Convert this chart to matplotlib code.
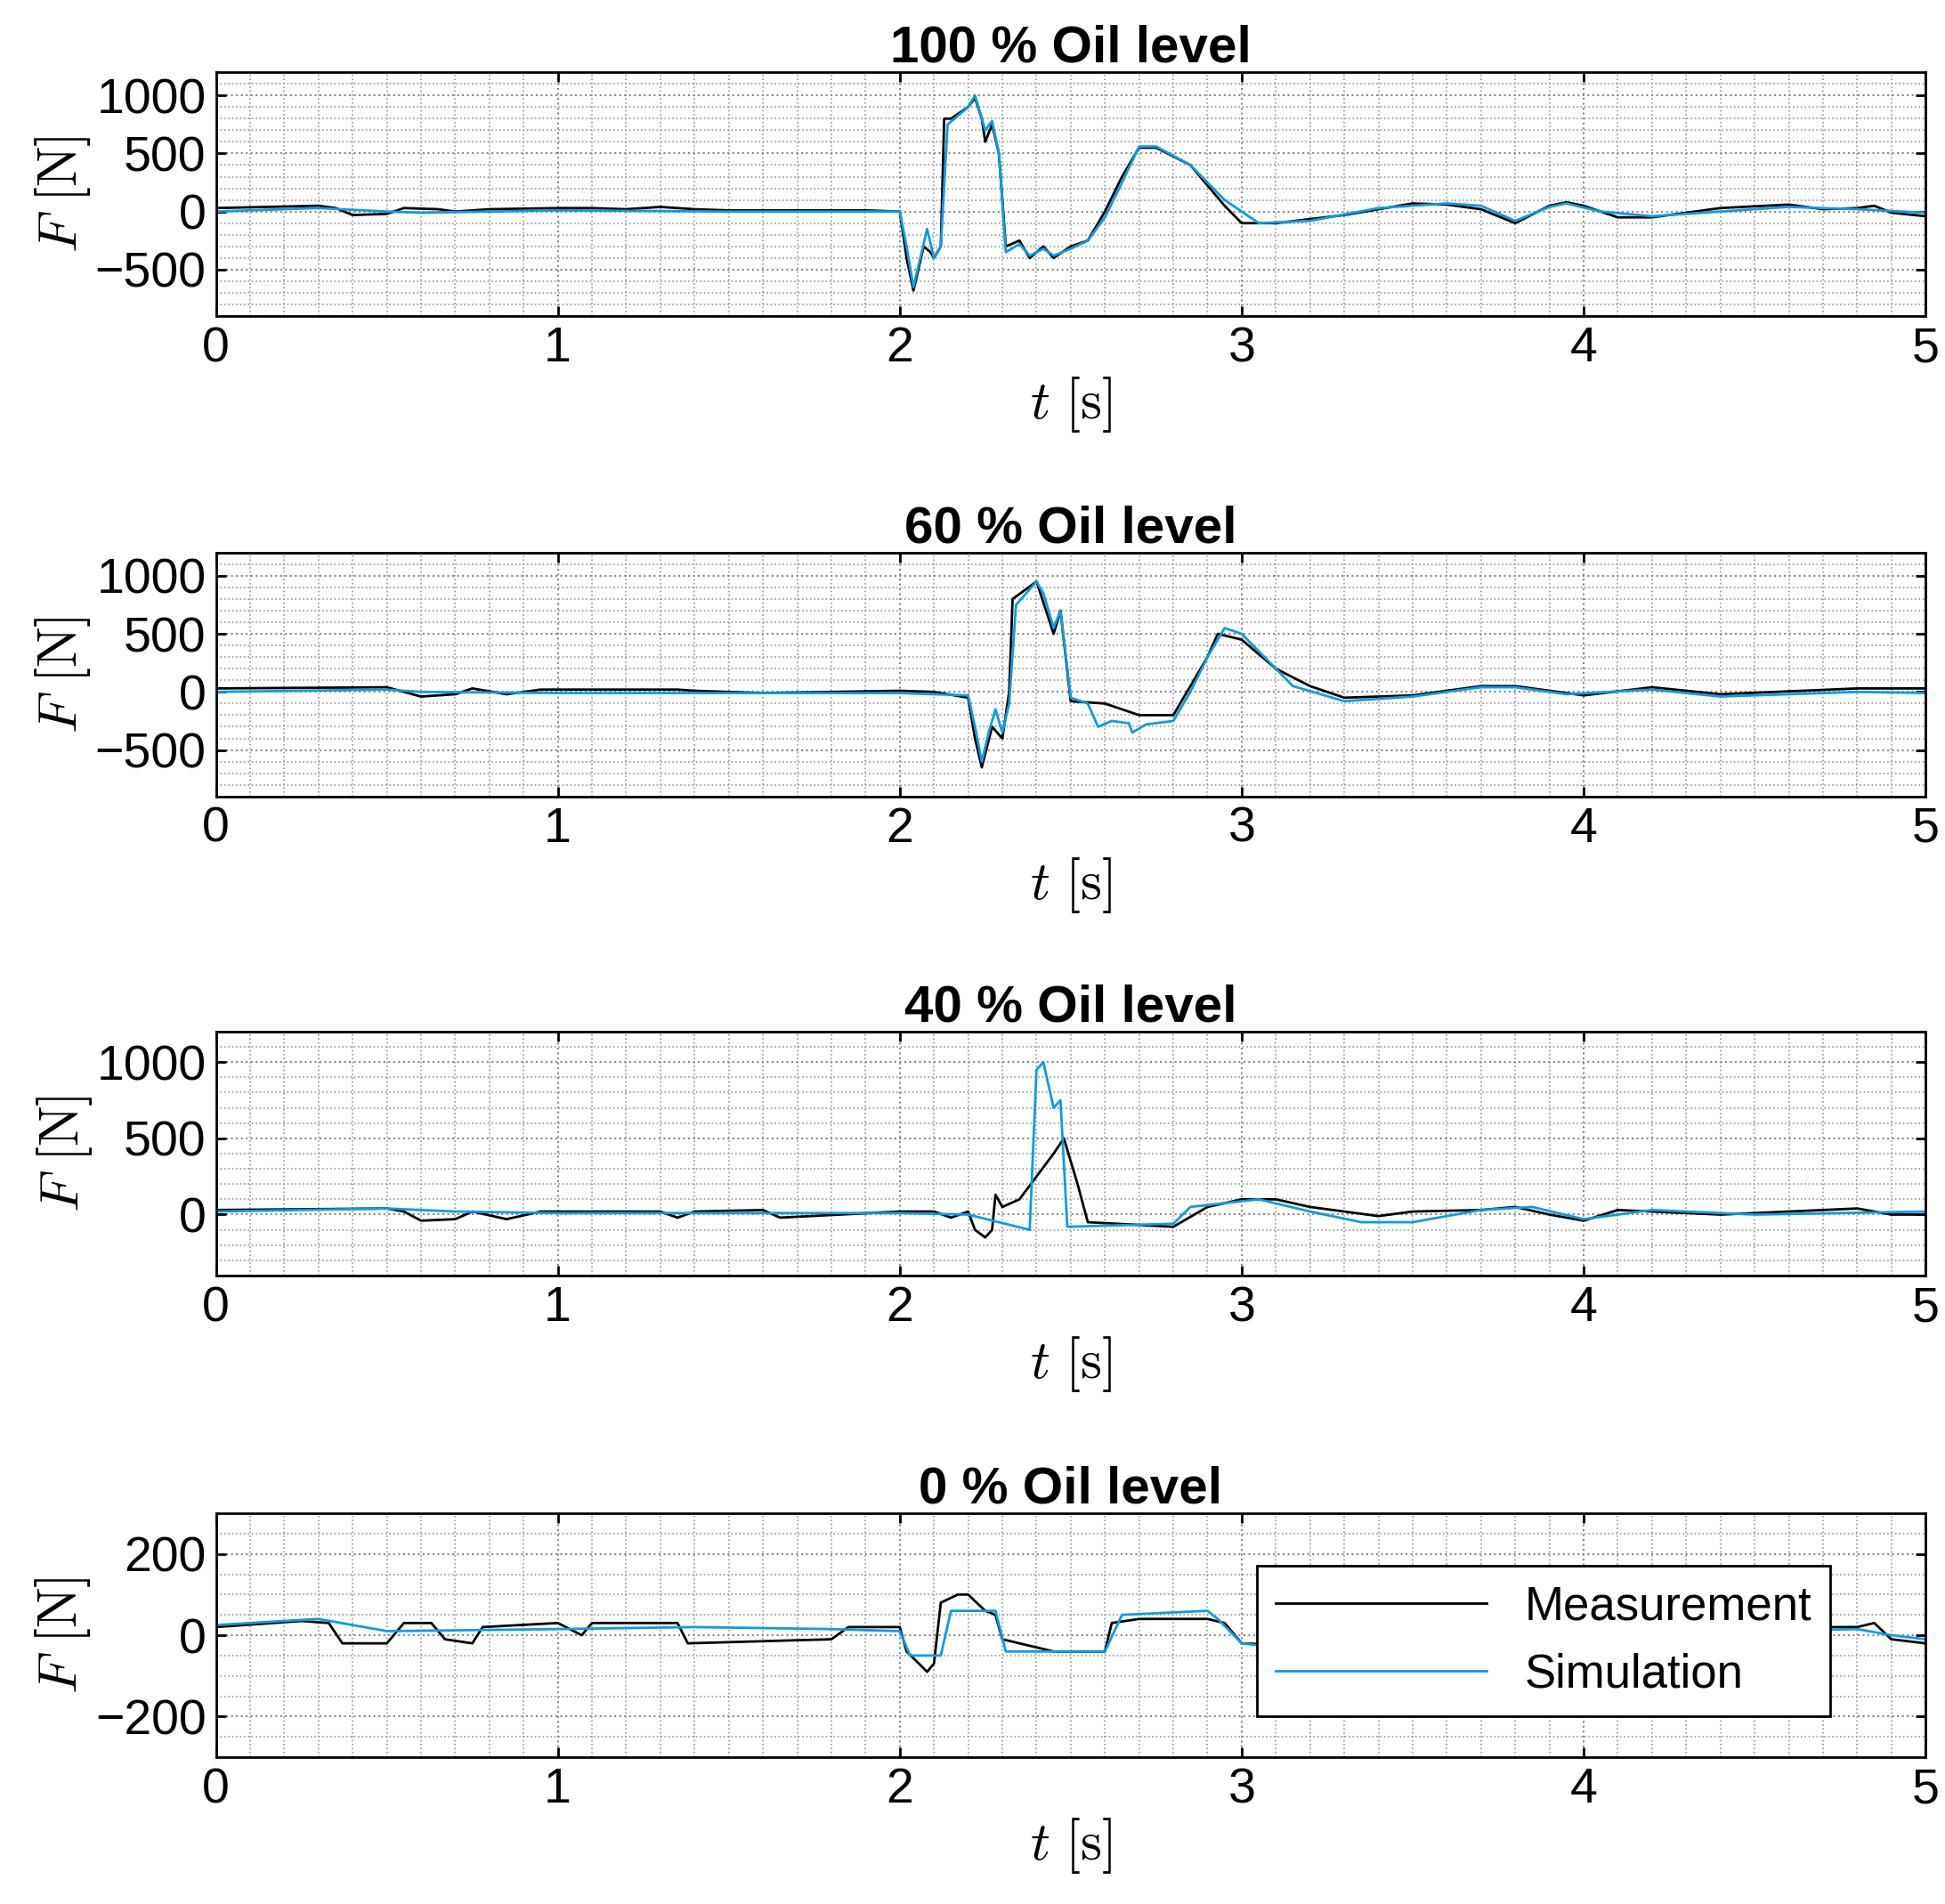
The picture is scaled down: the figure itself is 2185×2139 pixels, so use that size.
import numpy as np
import matplotlib.pyplot as plt
from matplotlib.ticker import MultipleLocator

plt.rcParams['font.family'] = 'Liberation Sans'
plt.rcParams['mathtext.fontset'] = 'cm'

TITLES = ['100 % Oil level', '60 % Oil level', '40 % Oil level', '0 % Oil level']
YLIMS = [(-900, 1200), (-900, 1200), (-400, 1200), (-300, 300)]
YTICKS = [[-500, 0, 500, 1000], [-500, 0, 500, 1000], [0, 500, 1000], [-200, 0, 200]]
YMINOR = [100, 100, 100, 50]

# breakpoints (t [s], F [N])
meas_100 = [(0, 30), (0.3, 50), (0.35, 30), (0.4, -30), (0.5, -20), (0.55, 30), (0.65, 20), (0.7, 0), (0.8, 20),
            (1.0, 30), (1.1, 30), (1.2, 20), (1.3, 40), (1.4, 20), (1.5, 10), (1.9, 10), (2.0, 0), (2.02, -400),
            (2.04, -680), (2.07, -300), (2.09, -350), (2.1, -400), (2.12, -300), (2.13, 800), (2.15, 800),
            (2.2, 900), (2.22, 980), (2.24, 800), (2.25, 600), (2.27, 750), (2.29, 500), (2.31, -300),
            (2.35, -250), (2.38, -400), (2.42, -300), (2.45, -400), (2.5, -300), (2.55, -250), (2.6, 0),
            (2.65, 300), (2.7, 550), (2.75, 550), (2.85, 400), (2.95, 50), (3.0, -100), (3.1, -100), (3.3, -30),
            (3.5, 70), (3.6, 60), (3.7, 20), (3.8, -100), (3.9, 50), (3.95, 80), (4.0, 50), (4.1, -50),
            (4.2, -50), (4.4, 30), (4.6, 60), (4.7, 20), (4.8, 30), (4.85, 50), (4.9, -10), (5.0, -40)]
sim_100 = [(0, 0), (0.3, 30), (0.5, 0), (0.6, -10), (1.0, 10), (1.5, 0), (2.0, 0), (2.02, -300), (2.04, -650),
           (2.06, -400), (2.08, -150), (2.1, -400), (2.12, -300), (2.14, 750), (2.2, 900), (2.22, 1000),
           (2.25, 700), (2.27, 780), (2.29, 500), (2.31, -350), (2.35, -280), (2.38, -380), (2.42, -320),
           (2.45, -380), (2.5, -320), (2.55, -250), (2.6, -50), (2.65, 250), (2.7, 560), (2.75, 560),
           (2.85, 400), (2.95, 100), (3.05, -100), (3.2, -80), (3.4, 30), (3.6, 70), (3.7, 50), (3.8, -80),
           (3.9, 40), (3.95, 70), (4.05, 0), (4.2, -40), (4.4, 0), (4.6, 40), (4.8, 20), (5.0, -10)]
meas_60 = [(0, 30), (0.5, 40), (0.6, -40), (0.7, -20), (0.75, 30), (0.85, -20), (0.95, 20), (1.35, 20),
           (1.4, 10), (1.6, -10), (2.0, 10), (2.1, 0), (2.2, -50), (2.22, -400), (2.24, -650), (2.27, -300),
           (2.3, -400), (2.32, 0), (2.33, 800), (2.4, 950), (2.45, 500), (2.47, 700), (2.5, -80), (2.6, -100),
           (2.7, -200), (2.8, -200), (2.9, 300), (2.93, 500), (3.0, 450), (3.1, 200), (3.2, 50), (3.3, -50),
           (3.5, -30), (3.7, 50), (3.8, 50), (4.0, -30), (4.2, 40), (4.4, -20), (4.8, 30), (5.0, 30)]
sim_60 = [(0, 0), (0.5, 20), (0.6, 0), (1.0, -10), (1.5, -10), (2.0, -10), (2.2, -30), (2.22, -300),
          (2.24, -600), (2.26, -350), (2.28, -150), (2.3, -350), (2.32, -100), (2.34, 750), (2.4, 950),
          (2.42, 850), (2.45, 550), (2.47, 700), (2.5, -50), (2.55, -100), (2.58, -300), (2.62, -250),
          (2.67, -270), (2.68, -350), (2.72, -280), (2.8, -250), (2.85, 0), (2.9, 300), (2.95, 550),
          (3.0, 500), (3.05, 350), (3.15, 50), (3.3, -80), (3.5, -40), (3.7, 40), (3.8, 40), (3.95, -20),
          (4.2, 20), (4.4, -40), (4.8, 0), (5.0, -10)]
meas_40 = [(0, 30), (0.5, 40), (0.55, 20), (0.6, -40), (0.7, -30), (0.75, 20), (0.85, -30), (0.95, 20),
           (1.3, 20), (1.35, -20), (1.4, 20), (1.6, 30), (1.65, -20), (2.0, 20), (2.1, 20), (2.15, -20),
           (2.2, 20), (2.22, -100), (2.25, -150), (2.27, -100), (2.28, 130), (2.3, 50), (2.35, 100),
           (2.4, 250), (2.45, 400), (2.48, 500), (2.52, 200), (2.55, -50), (2.8, -80), (2.9, 50), (3.0, 100),
           (3.1, 100), (3.2, 50), (3.4, -10), (3.5, 20), (3.7, 30), (3.8, 50), (3.9, 0), (4.0, -40),
           (4.1, 30), (4.4, 0), (4.8, 40), (4.9, 0), (5.0, 0)]
sim_40 = [(0, 20), (0.5, 40), (0.7, 20), (1.0, 10), (1.5, 10), (2.0, 10), (2.2, 0), (2.38, -100), (2.4, 950),
          (2.42, 1000), (2.45, 700), (2.47, 750), (2.49, -80), (2.8, -60), (2.85, 50), (3.05, 100),
          (3.2, 20), (3.35, -50), (3.5, -50), (3.7, 30), (3.85, 50), (4.0, -30), (4.2, 30), (4.5, 0), (5.0, 20)]
meas_0 = [(0, 20), (0.25, 35), (0.33, 30), (0.37, -20), (0.5, -20), (0.55, 30), (0.63, 30), (0.67, -10),
          (0.75, -20), (0.78, 20), (1.0, 30), (1.07, 0), (1.1, 30), (1.35, 30), (1.38, -20), (1.8, -10),
          (1.85, 20), (2.0, 20), (2.02, -40), (2.08, -90), (2.1, -70), (2.12, 80), (2.17, 100), (2.2, 100),
          (2.25, 60), (2.28, 50), (2.3, -10), (2.35, -20), (2.45, -40), (2.6, -40), (2.62, 30), (2.7, 40),
          (2.9, 40), (2.95, 30), (3.0, -20), (3.3, -30), (3.6, -20), (4.0, 10), (4.5, 20), (4.8, 20),
          (4.85, 30), (4.9, -10), (5.0, -20)]
sim_0 = [(0, 25), (0.3, 40), (0.4, 25), (0.5, 10), (1.0, 15), (1.4, 20), (1.8, 15), (2.0, 10), (2.03, -50),
         (2.12, -50), (2.15, 60), (2.28, 60), (2.31, -40), (2.6, -40), (2.65, 50), (2.9, 60), (2.93, 40),
         (3.0, -20), (3.2, -40), (3.6, -20), (4.0, 0), (4.5, 10), (4.8, 15), (4.9, 0), (5.0, -10)]

MEAS = [meas_100, meas_60, meas_40, meas_0]
SIM = [sim_100, sim_60, sim_40, sim_0]
TOPS = [58, 444, 829, 1216]

fig = plt.figure(figsize=(21.85, 21.39), dpi=100)
for i in range(4):
    ax = fig.add_axes([0.111, 1 - (TOPS[i] + 196) / 1530, 0.879, 196 / 1530])
    m = np.array(MEAS[i]); s = np.array(SIM[i])
    ax.plot(m[:, 0], m[:, 1], color='black', lw=2, label='Measurement')
    ax.plot(s[:, 0], s[:, 1], color='#0a9ce8', lw=2, label='Simulation')
    ax.set_xlim(0, 5)
    ax.set_ylim(*YLIMS[i])
    ax.set_yticks(YTICKS[i])
    ax.xaxis.set_minor_locator(MultipleLocator(0.1))
    ax.yaxis.set_minor_locator(MultipleLocator(YMINOR[i]))
    ax.grid(True, which='major', ls=':', color='#888888', lw=1.5)
    ax.grid(True, which='minor', ls=':', color='#999999', lw=1.2)
    ax.tick_params(labelsize=40, width=2, length=8, direction='in', top=True, right=True, pad=8)
    ax.tick_params(which='minor', length=0)
    for sp in ax.spines.values():
        sp.set_linewidth(2)
    ax.set_title(TITLES[i], fontsize=42, fontweight='bold', pad=8)
    ax.set_xlabel(r'$t\ [\mathrm{s}]$', fontsize=44, labelpad=2)
    ax.set_ylabel(r'$F\ [\mathrm{N}]$', fontsize=44, labelpad=2)
    if i == 3:
        leg = ax.legend(loc='upper right', bbox_to_anchor=(0.958, 0.88), fontsize=38, fancybox=False,
                        framealpha=1, edgecolor='black', handlelength=4.5)
        leg.get_frame().set_linewidth(2)

fig.savefig('out.png', dpi=100)
